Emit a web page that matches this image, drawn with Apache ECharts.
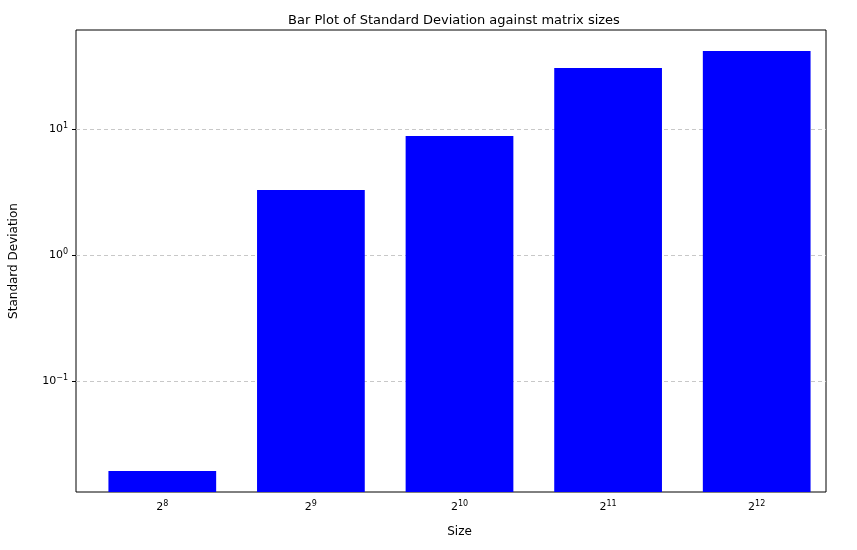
<!DOCTYPE html>
<html>
<head>
<meta charset="utf-8">
<script src="https://cdn.jsdelivr.net/npm/echarts@6/dist/echarts.min.js"></script>
<style>html,body{margin:0;padding:0;background:#fff}#chart{width:857px;height:550px}</style>
</head>
<body>
<div id="chart"></div>
<script>
// data
var sizeExps = [8, 9, 10, 11, 12];
var stdDevs = [0.0193, 3.28, 8.8, 30.5, 41.6];
var yMin = 0.01315, yMax = 61;

var chart = echarts.init(document.getElementById('chart'));
var font = 'DejaVu Sans';
var supLabel = function (base, exp) {
  return base + '{s|' + String(exp).replace('-', '\u2212') + '}';
};
var richText = {s: {fontSize: 8, verticalAlign: 'top', padding: [0, 0, 6, 0], fontFamily: font, color: '#000'}};

chart.setOption({
  animation: false,
  textStyle: {fontFamily: font},
  title: {
    text: 'Bar Plot of Standard Deviation against matrix sizes',
    left: 449, top: 9, textAlign: 'center',
    textStyle: {fontSize: 13, fontWeight: 'normal', color: '#000', fontFamily: font}
  },
  grid: [
    {left: 73, top: 30, width: 753, height: 462, show: true, borderColor: '#000', borderWidth: 1, containLabel: false},
    {left: 88, top: 30, width: 743, height: 462, containLabel: false}
  ],
  xAxis: [
    {gridIndex: 0, type: 'value', min: 0, max: 1, show: false},
    {
      gridIndex: 1, type: 'category', data: sizeExps,
      name: 'Size', nameLocation: 'middle', nameGap: 34,
      nameTextStyle: {fontSize: 12, color: '#000', fontFamily: font},
      axisLine: {show: false},
      axisTick: {alignWithLabel: true, length: 4, lineStyle: {color: '#000'}},
      axisLabel: {
        margin: 8, fontSize: 11, color: '#000', rich: richText,
        formatter: function (v) { return supLabel('2', v); }
      }
    }
  ],
  yAxis: [
    {
      gridIndex: 0, type: 'log', logBase: 10, min: yMin, max: yMax,
      name: 'Standard Deviation', nameLocation: 'middle', nameGap: 56,
      nameTextStyle: {fontSize: 12, color: '#000', fontFamily: font},
      axisLine: {show: false},
      axisTick: {length: 4, lineStyle: {color: '#000'}},
      splitLine: {show: true, showMinLine: false, showMaxLine: false, lineStyle: {type: [4, 3], color: '#c8c8c8', width: 1}},
      axisLabel: {
        showMinLabel: false, showMaxLabel: false, fontSize: 11, color: '#000', rich: richText,
        formatter: function (v) {
          var e = Math.log10(v);
          if (Math.abs(e - Math.round(e)) > 1e-6) return '';
          return supLabel('10', Math.round(e));
        }
      }
    },
    {gridIndex: 1, type: 'log', logBase: 10, min: yMin, max: yMax, show: false}
  ],
  series: [{
    type: 'custom', xAxisIndex: 1, yAxisIndex: 1,
    data: stdDevs.map(function (v, i) { return [i, v]; }),
    encode: {x: 0, y: 1},
    renderItem: function (params, api) {
      var top = api.coord([api.value(0), api.value(1)]);
      var bottom = api.coord([api.value(0), yMin]);
      var w = api.size([1, 0])[0] * 0.725;
      return {
        type: 'rect',
        shape: {x: top[0] - w / 2, y: top[1], width: w, height: bottom[1] - top[1]},
        style: {fill: '#0000ff'}
      };
    }
  }]
});
</script>
</body>
</html>
